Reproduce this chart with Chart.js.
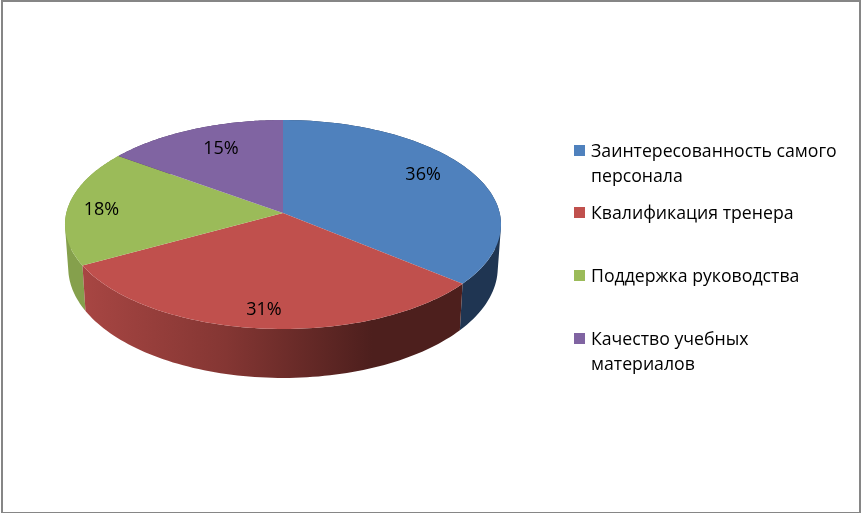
<!DOCTYPE html>
<html>
<head>
<meta charset="utf-8">
<style>
  html,body{margin:0;padding:0;background:#fff}
  #wrap{position:relative;width:861px;height:513px;overflow:hidden}
  #frame{position:absolute;left:1px;top:0;width:860px;height:513px;box-sizing:border-box;border:solid #868686;border-width:2px 2px 1px 2px;pointer-events:none}
  canvas{display:block}
</style>
<script src="https://cdn.jsdelivr.net/npm/chart.js@4"></script>
</head>
<body>
<div id="wrap">
  <canvas id="c" width="861" height="513"></canvas>
  <div id="frame"></div>
</div>
<script>
// values
const categories = [
  ["Заинтересованность самого", "персонала"],
  ["Квалификация тренера"],
  ["Поддержка руководства"],
  ["Качество учебных", "материалов"]
];
const shares = [36, 31, 18, 15];

// colours
const topColors = ["#4F81BD", "#C0504D", "#9BBB59", "#8064A2"];
const FONT_FAMILY = '"Open Sans", sans-serif';

// tilted disc: circle pushed through a small perspective
const cx = 283, cy = 213, sx = 216.7, sy = 103.2, persp = 0.11;
// percent labels sit at this fraction of the radius, then a small nudge
const labelRadius = [0.75, 0.85, 0.84, 0.73];
const labelNudge = [[-2,-6],[0,1],[-1,2],[5,-1]];
// legend baselines of the first line of each item
const legendBase = [157, 219, 282, 345];

function project(angle, r, lower){
  const x = Math.cos(angle) * r, y = Math.sin(angle) * r;
  const d = 1 - persp * y;
  let px = sx * x / d, py = sy * y / d;
  if(lower){ px *= 0.985; py = py * 1.055 + 42.6; }
  return { x: cx + px, y: cy + py };
}

function rimFill(ctx, i){
  if(i === 1){
    const g = ctx.createLinearGradient(81, 0, 372, 0);
    g.addColorStop(0, "#A84643");
    g.addColorStop(0.5, "#843633");
    g.addColorStop(1, "#4D1F1D");
    return g;
  }
  return ["#1F3552", "", "#85A04C", "#4C3A62"][i];
}

// add a quad to the path, always wound the same way so overlaps don't cancel
function addQuad(ctx, pts){
  let area = 0;
  pts.forEach((p,k)=>{
    const q = pts[(k+1)%4];
    area += p.x*q.y - q.x*p.y;
  });
  const list = area < 0 ? pts.slice().reverse() : pts;
  ctx.moveTo(list[0].x, list[0].y);
  for(let k=1;k<4;k++) ctx.lineTo(list[k].x, list[k].y);
  ctx.closePath();
}

const disc3d = {
  id: "disc3d",
  beforeDatasetDraw(chart){
    const ctx = chart.ctx;
    const arcs = chart.getDatasetMeta(0).data;
    const steps = 80;
    // rim first, the top face covers whatever is behind it
    [3, 2, 0, 1].forEach(i=>{
      const a = arcs[i];
      const at = n => a.startAngle + (a.endAngle-a.startAngle)*n/steps;
      ctx.beginPath();
      for(let n=0;n<steps;n++){
        addQuad(ctx, [
          project(at(n), 1, false), project(at(n+1), 1, false),
          project(at(n+1), 1, true), project(at(n), 1, true)
        ]);
      }
      ctx.fillStyle = rimFill(ctx, i);
      ctx.fill();
    });
    arcs.forEach((a,i)=>{
      ctx.beginPath();
      ctx.moveTo(cx, cy);
      for(let n=0;n<=steps;n++){
        const p = project(a.startAngle + (a.endAngle-a.startAngle)*n/steps, 1, false);
        ctx.lineTo(p.x,p.y);
      }
      ctx.closePath();
      ctx.fillStyle = topColors[i];
      ctx.fill();
    });
    // percent labels
    ctx.font = "18px " + FONT_FAMILY;
    ctx.fillStyle = "#000";
    ctx.textAlign = "center";
    ctx.textBaseline = "middle";
    arcs.forEach((a,i)=>{
      const p = project((a.startAngle+a.endAngle)/2, labelRadius[i], false);
      ctx.fillText(shares[i] + "%", p.x + labelNudge[i][0], p.y + labelNudge[i][1]);
    });
    return false;
  },
  afterDraw(chart){
    // legend items are evenly spaced, second lines just hang below
    const ctx = chart.ctx;
    ctx.font = "17.7px " + FONT_FAMILY;
    ctx.textAlign = "left";
    ctx.textBaseline = "alphabetic";
    categories.forEach((lines,i)=>{
      ctx.fillStyle = topColors[i];
      ctx.fillRect(574, legendBase[i] - 12, 11, 11);
      ctx.fillStyle = "#000";
      lines.forEach((t,n)=> ctx.fillText(t, 591, legendBase[i] + n*25));
    });
  }
};

new Chart(document.getElementById("c"), {
  type: "pie",
  data: {
    labels: categories.map(l=>l.join(" ")),
    datasets: [{ data: shares, backgroundColor: topColors, borderWidth: 0 }]
  },
  options: {
    responsive: false,
    animation: false,
    plugins: {
      tooltip: { enabled: false },
      legend: { display: false }
    }
  },
  plugins: [disc3d]
});
</script>
</body>
</html>
